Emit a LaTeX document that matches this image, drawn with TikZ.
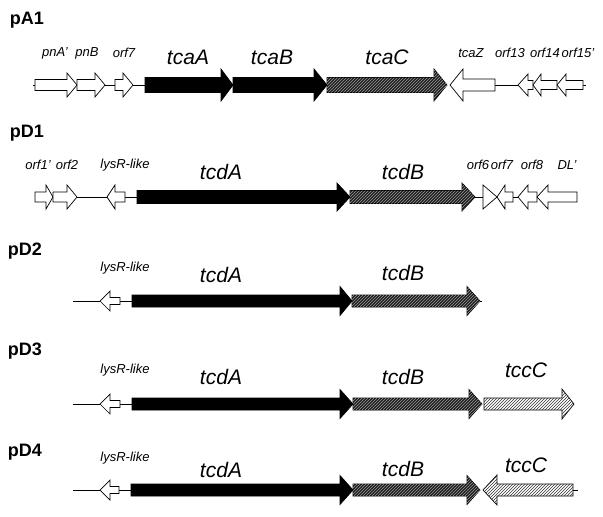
\documentclass[tikz,border=0pt]{standalone}
\usepackage{fontspec}
\setmainfont{Liberation Sans}
\usetikzlibrary{patterns}
\newcommand{\geneR}[7]{\draw[#7] ({#1},{#3-#4}) -- ({#2-#6},{#3-#4}) -- ({#2-#6},{#3-#5}) -- ({#2},{#3}) -- ({#2-#6},{#3+#5}) -- ({#2-#6},{#3+#4}) -- ({#1},{#3+#4}) -- cycle;}
\newcommand{\geneL}[7]{\draw[#7] ({#2},{#3-#4}) -- ({#1+#6},{#3-#4}) -- ({#1+#6},{#3-#5}) -- ({#1},{#3}) -- ({#1+#6},{#3+#5}) -- ({#1+#6},{#3+#4}) -- ({#2},{#3+#4}) -- cycle;}
\tikzset{
  whitegene/.style={draw=black, fill=white, line width=0.7pt, line join=miter},
  blackgene/.style={draw=black, fill=black, line width=0.7pt, line join=miter},
  darkhatch/.style={draw=black, fill=black!88, line width=0.7pt, line join=miter, postaction={pattern=north east lines, pattern color=white!60!black}},
  lighthatch/.style={draw=black, fill=white, line width=0.7pt, line join=miter, postaction={pattern=north east lines, pattern color=black!80}},
  backbone/.style={draw=black, line width=0.7pt},
  rowlabel/.style={font=\fontsize{18}{21}\bfseries\selectfont, inner sep=0pt},
  biglabel/.style={font=\fontsize{21}{25}\itshape\selectfont, inner sep=0pt},
  smalllabel/.style={font=\fontsize{13}{16}\itshape\selectfont, inner sep=0pt}
}
\begin{document}
\begin{tikzpicture}[x=1pt,y=-1pt]
\useasboundingbox (0,0) rectangle (603,517);
% ---------------- pA1 ----------------
\node[rowlabel] (pA1) at (27,20) {pA1};
\draw[backbone] (33,85) -- (35,85);
\draw[backbone] (105,85) -- (115,85);
\draw[backbone] (133,85) -- (145,85);
\draw[backbone] (495,85) -- (518,85);
\draw[backbone] (583,85) -- (586,85);
\geneR{35}{77}{85}{5.5}{12}{10}{whitegene}
\geneR{77}{105}{85}{5.5}{12}{10}{whitegene}
\geneR{115}{133}{85}{5.5}{12}{10}{whitegene}
\geneR{145}{233}{85}{7.5}{16}{12}{blackgene}
\geneR{233}{327}{85}{7.5}{16}{13}{blackgene}
\geneR{327}{447}{85}{7.5}{16}{13}{darkhatch}
\geneL{450}{495}{85}{6}{16}{13}{whitegene}
\geneL{518}{533}{85}{4.5}{11}{10}{whitegene}
\geneL{533}{557}{85}{4.5}{11}{8}{whitegene}
\geneL{557}{583}{85}{4.5}{11}{9}{whitegene}
\node[smalllabel] (l1) at (55,53) {pnA'};
\node[smalllabel] (l2) at (87,53) {pnB};
\node[smalllabel] (l3) at (124,53) {orf7};
\node[biglabel] (l4) at (188,57) {tcaA};
\node[biglabel] (l5) at (272,57) {tcaB};
\node[biglabel] (l6) at (387,57) {tcaC};
\node[smalllabel] (l7) at (471,53) {tcaZ};
\node[smalllabel] (l8) at (510,53) {orf13};
\node[smalllabel] (l9) at (545,53) {orf14};
\node[smalllabel] (l10) at (578,53) {orf15'};
% ---------------- pD1 ----------------
\node[rowlabel] (pD1) at (27,133) {pD1};
\draw[backbone] (77,197) -- (107,197);
\draw[backbone] (125,197) -- (137,197);
\draw[backbone] (475,197) -- (483,197);
\draw[backbone] (513,197) -- (518,197);
\geneR{35}{53}{197}{5}{12}{7}{whitegene}
\geneR{53}{77}{197}{5}{12}{10}{whitegene}
\geneL{107}{125}{197}{5}{12}{8}{whitegene}
\geneR{137}{350}{197}{6.5}{14}{13}{blackgene}
\geneR{350}{475}{197}{6.5}{14}{13}{darkhatch}
\draw[whitegene] (483,185) -- (497,197) -- (483,209) -- cycle;
\geneL{497}{513}{197}{5}{12}{8}{whitegene}
\geneL{518}{537}{197}{5}{12}{10}{whitegene}
\geneL{537}{577}{197}{5}{12}{11}{whitegene}
\node[smalllabel] (m1) at (38,165) {orf1'};
\node[smalllabel] (m2) at (67,165) {orf2};
\node[smalllabel] (m3) at (125,165) {lysR-like};
\node[biglabel] (m4) at (221,172) {tcdA};
\node[biglabel] (m5) at (403,172) {tcdB};
\node[smalllabel] (m6) at (478,165) {orf6};
\node[smalllabel] (m7) at (502,165) {orf7};
\node[smalllabel] (m8) at (532,165) {orf8};
\node[smalllabel] (m9) at (567,165) {DL'};
% ---------------- pD2 ----------------
\node[rowlabel] (pD2) at (25,251) {pD2};
\draw[backbone] (73,301) -- (100,301);
\draw[backbone] (120,301) -- (132,301);
\draw[backbone] (480,301) -- (482,301);
\geneL{100}{120}{301}{3.5}{10}{10}{whitegene}
\geneR{132}{352}{301}{6}{14.5}{12}{blackgene}
\geneR{352}{480}{301}{6}{14.5}{13}{darkhatch}
\node[smalllabel] (n1) at (125,268) {lysR-like};
\node[biglabel] (n2) at (221,275) {tcdA};
\node[biglabel] (n3) at (403,273) {tcdB};
% ---------------- pD3 ----------------
\node[rowlabel] (pD3) at (25,351) {pD3};
\draw[backbone] (73,404) -- (100,404);
\draw[backbone] (120,404) -- (132,404);
\geneL{100}{120}{404}{3.5}{10}{10}{whitegene}
\geneR{132}{353}{404}{6}{14.5}{13}{blackgene}
\geneR{353}{482}{404}{6}{14.5}{13}{darkhatch}
\geneR{484}{574}{404}{6}{15}{12}{lighthatch}
\node[smalllabel] (o1) at (125,370) {lysR-like};
\node[biglabel] (o2) at (221,377) {tcdA};
\node[biglabel] (o3) at (403,377) {tcdB};
\node[biglabel] (o4) at (526,370) {tccC};
% ---------------- pD4 ----------------
\node[rowlabel] (pD4) at (25,452) {pD4};
\draw[backbone] (73,490) -- (100,490);
\draw[backbone] (119,490) -- (131,490);
\draw[backbone] (573,490) -- (578,490);
\geneL{100}{119}{490}{3.5}{10}{10}{whitegene}
\geneR{131}{353}{490}{6}{14.5}{13}{blackgene}
\geneR{353}{480}{490}{6}{14.5}{13}{darkhatch}
\geneL{483}{573}{490}{6}{15}{14}{lighthatch}
\node[smalllabel] (q1) at (125,458) {lysR-like};
\node[biglabel] (q2) at (221,470) {tcdA};
\node[biglabel] (q3) at (403,469) {tcdB};
\node[biglabel] (q4) at (526,465) {tccC};
\end{tikzpicture}
\end{document}
